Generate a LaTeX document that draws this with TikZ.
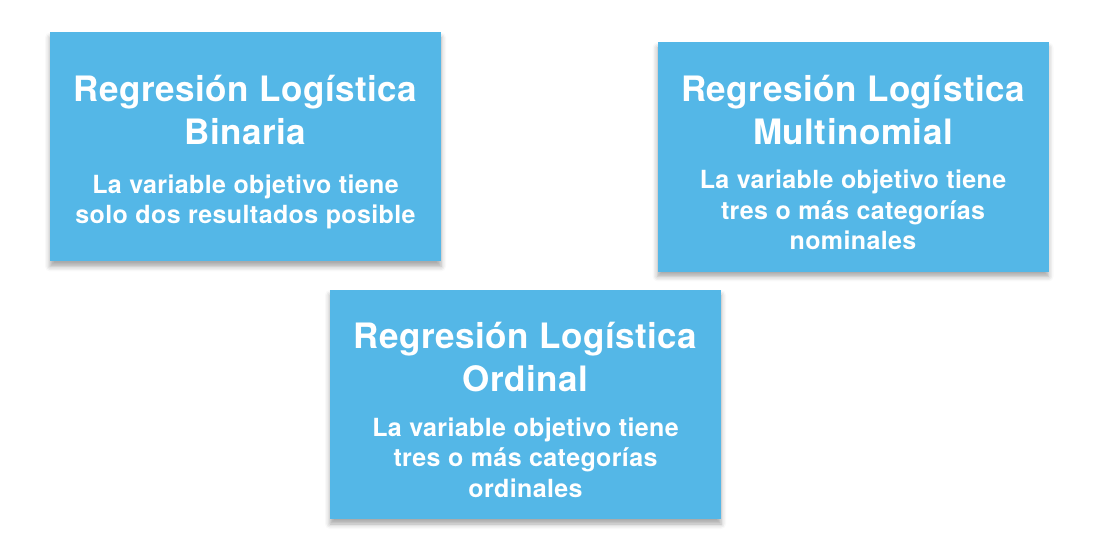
\documentclass[tikz,border=0pt]{standalone}
\usepackage{fontspec}
\setmainfont[LetterSpace=1.5]{TeX Gyre Heros}
\usepackage{tikz}
\usetikzlibrary{calc, shadows.blur}
\definecolor{cajaAzul}{RGB}{84,183,231}
\newcommand{\tituloFont}{\fontsize{35}{43}\selectfont\bfseries\spaceskip=0.3em\relax\rule{0pt}{37pt}}
\newcommand{\textoFont}{\fontsize{25}{30.5}\selectfont\bfseries\spaceskip=0.3em\relax}

\begin{document}
\begin{tikzpicture}[x=1pt, y=1pt,
	caja/.style={fill=cajaAzul, text=white, inner sep=0pt, text width=391pt, align=center,
		minimum width=391pt, minimum height=229pt,
		blur shadow={shadow xshift=0pt, shadow yshift=-5pt, shadow blur radius=5pt, shadow opacity=35}}]
	\useasboundingbox (0,0) rectangle (1095,539);
	\coordinate (A) at (245.5,392);
	\coordinate (B) at (853,382);
	\coordinate (C) at (525.5,134.5);

	\node[caja] (binaria) at (A) {{\tituloFont Regresión Logística\\Binaria\par}\vspace{18pt}%
		{\textoFont La variable objetivo tiene\\solo dos resultados posible\par}};
	\node[caja] (multinomial) at (B) {{\tituloFont Regresión Logística\\Multinomial\par}\vspace{14pt}%
		{\textoFont La variable objetivo tiene\\tres o más categorías\\nominales\par}};
	\node[caja] (ordinal) at (C) {{\tituloFont Regresión Logística\\Ordinal\par}\vspace{14pt}%
		{\textoFont La variable objetivo tiene\\tres o más categorías\\ordinales\par}};
\end{tikzpicture}
\end{document}
